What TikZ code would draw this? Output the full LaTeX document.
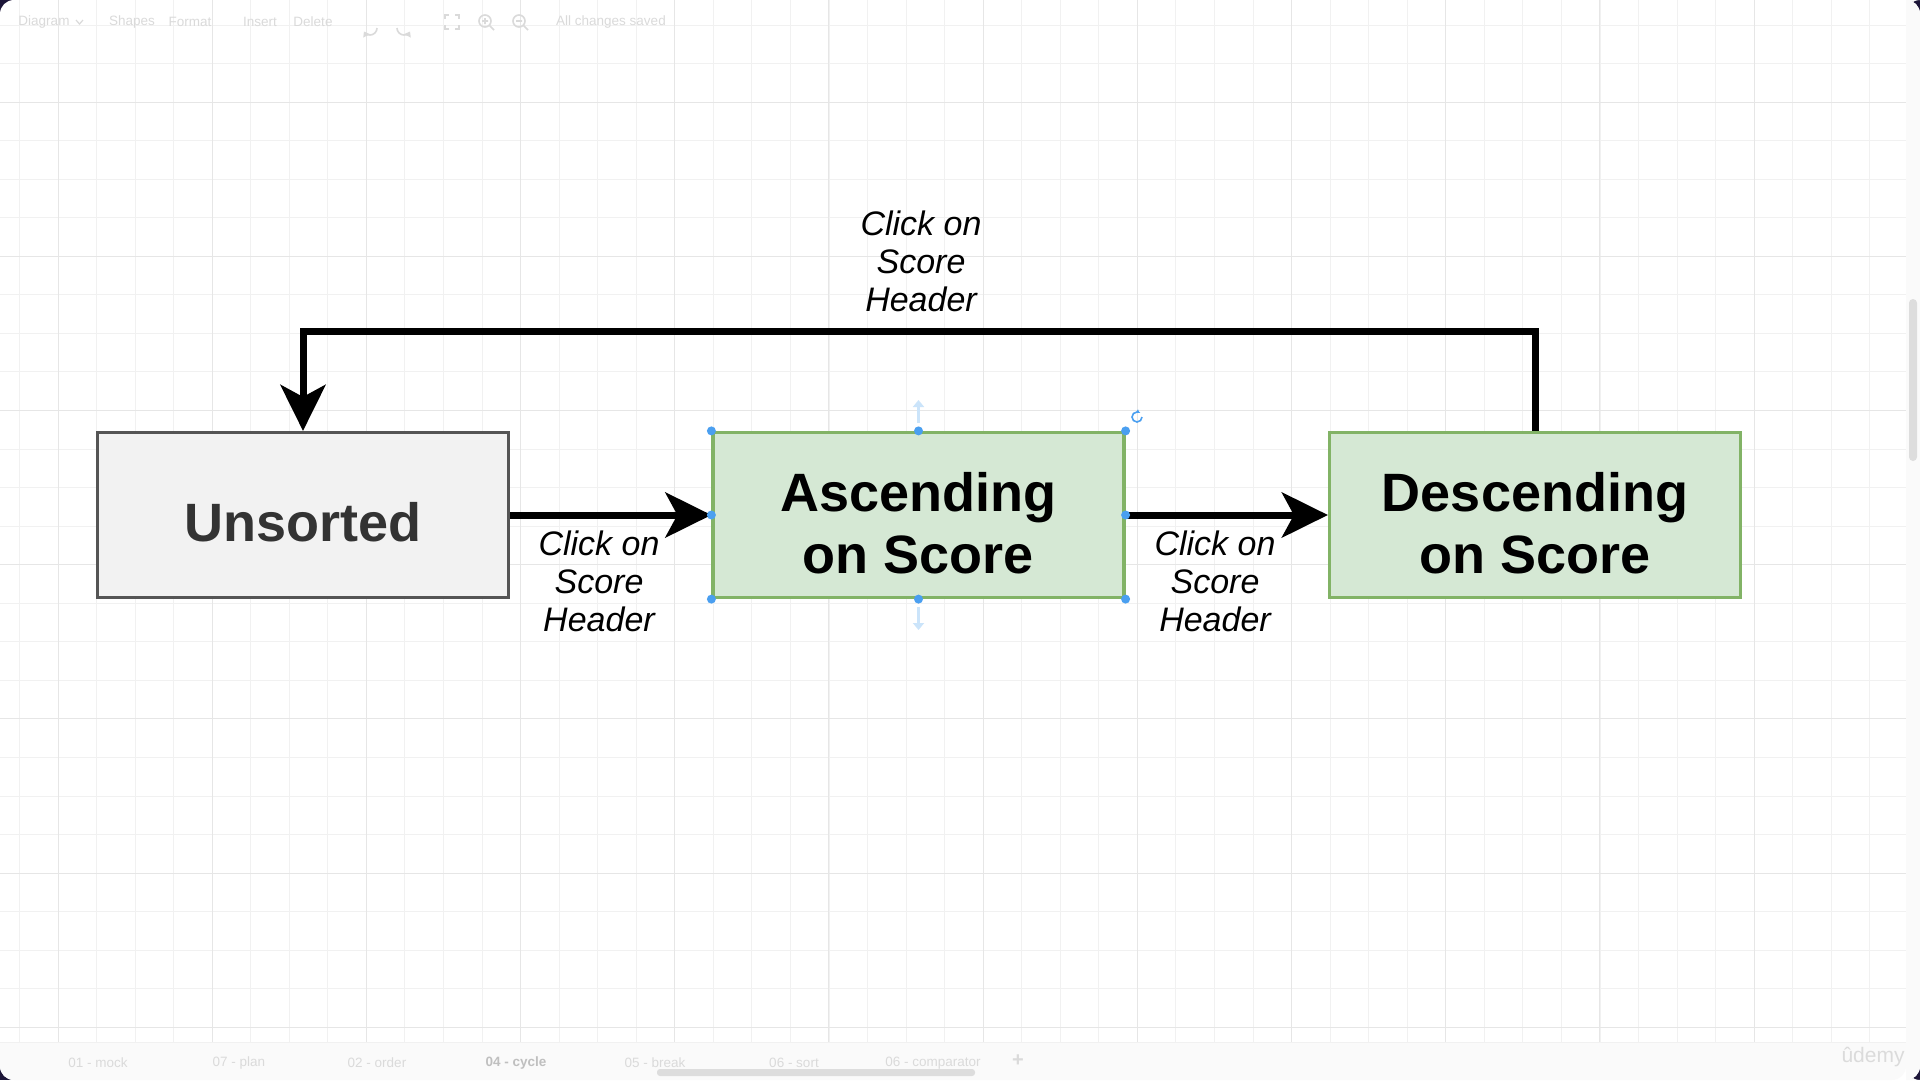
\documentclass[tikz,border=0pt]{standalone}
\usepackage{fontspec}
\setmainfont{Liberation Sans}
\usetikzlibrary{arrows.meta}

\definecolor{greyfill}{HTML}{F2F2F2}
\definecolor{greydraw}{HTML}{555555}
\definecolor{greytext}{HTML}{333333}
\definecolor{greenfill}{HTML}{D5E8D4}
\definecolor{greendraw}{HTML}{82B366}
\definecolor{handleblue}{HTML}{4A9FF0}
\definecolor{hintblue}{HTML}{CBE4FA}
\definecolor{gridminor}{HTML}{F1F1F1}
\definecolor{gridmajor}{HTML}{E6E6E6}
\definecolor{uitext}{HTML}{DADADA}
\definecolor{barfill}{HTML}{FAFAFA}
\definecolor{scrollfill}{HTML}{DDDDDD}
\definecolor{cornerdark}{HTML}{1C1538}

\tikzset{
  statebox/.style={draw, line width=3.2pt, minimum width=411pt, minimum height=165pt, inner sep=0pt},
  statetext/.style={align=center, inner sep=0pt, font=\fontsize{54}{62}\selectfont\bfseries},
  flow/.style={line width=7pt, -{Stealth[length=46pt, width=45pt, inset=12pt]}},
  clicklabel/.style={align=center, font=\fontsize{34}{38}\selectfont\itshape},
  uilabel/.style={text=uitext, font=\fontsize{13.5}{15}\selectfont},
  uiicon/.style={draw=uitext, line width=1.6pt},
  handle/.style={circle, fill=handleblue, draw=none, minimum size=9pt, inner sep=0pt},
  minorline/.style={draw=gridminor, line width=1pt},
  majorline/.style={draw=gridmajor, line width=1pt},
}

\begin{document}
\begin{tikzpicture}[x=1pt, y=-1pt]
  \useasboundingbox (0,0) rectangle (1920,1080);
  % window
  \fill[cornerdark] (0,0) rectangle (1920,1080);
  \fill[white, rounded corners=14pt] (0,0) rectangle (1920,1080);

  % grid
  \foreach \k in {0,...,48}
    \draw[minorline] ({round(18.95+38.55*\k)+0.5},0) -- ({round(18.95+38.55*\k)+0.5},1042);
  \foreach \k in {0,...,26}
    \draw[minorline] (0,{round(24.5+38.55*\k)+0.5}) -- (1906,{round(24.5+38.55*\k)+0.5});
  \foreach \k in {0,...,11}
    \draw[majorline] ({round(57.5+154.2*\k)+0.5},0) -- ({round(57.5+154.2*\k)+0.5},1042);
  \foreach \k in {0,...,6}
    \draw[majorline] (0,{round(101.6+154.2*\k)+0.5}) -- (1906,{round(101.6+154.2*\k)+0.5});

  % side and bottom bars
  \fill[barfill, rounded corners=14pt] (1906,0) rectangle (1920,1080);
  \fill[barfill] (1906,0) rectangle (1912,1080);
  \fill[scrollfill, rounded corners=4pt] (1909,299) rectangle (1917,461);
  \fill[barfill, rounded corners=14pt] (0,1042) rectangle (1906,1080);
  \fill[barfill] (0,1042) rectangle (1906,1060);
  \draw[gridminor, line width=1pt] (0,1042) -- (1906,1042);
  \fill[scrollfill, rounded corners=3pt] (657,1069) rectangle (975,1076);

  % toolbar
  \node[uilabel] (tbdiagram) at (44,22) {Diagram};
  \draw[uiicon, line width=1.2pt] (76,20) -- (79.5,24) -- (83,20);
  \node[uilabel] (tbshapes) at (132,22) {Shapes};
  \node[uilabel] (tbformat) at (190,22) {Format};
  \node[uilabel] (tbinsert) at (260,22) {Insert};
  \node[uilabel] (tbdelete) at (313,22) {Delete};
  \draw[uiicon, -{Triangle[length=5pt, width=7pt]}] (377,28) arc (0:150:7);
  \draw[uiicon, -{Triangle[length=5pt, width=7pt]}] (397,28) arc (180:30:7);
  \draw[uiicon] (445,19) |- (449,15) (455,15) -| (459,19) (459,25) |- (455,29) (449,29) -| (445,25);
  \draw[uiicon] (485,21) circle (6) (489.5,25.5) -- (494,30) (482,21) -- (488,21) (485,18) -- (485,24);
  \draw[uiicon] (519,21) circle (6) (523.5,25.5) -- (528,30) (516,21) -- (522,21);
  \node[uilabel] (tbsaved) at (611,22) {All changes saved};

  % page tabs
  \node[uilabel] (tabmock) at (98,1063) {01 - mock};
  \node[uilabel] (tabplan) at (239,1063) {07 - plan};
  \node[uilabel] (taborder) at (377,1063) {02 - order};
  \node[uilabel, text=black!25, font=\fontsize{13.5}{15}\selectfont\bfseries] (tabcycle) at (516,1063) {04 - cycle};
  \node[uilabel] (tabbreak) at (655,1063) {05 - break};
  \node[uilabel] (tabsort) at (794,1063) {06 - sort};
  \node[uilabel] (tabcomp) at (933,1063) {06 - comparator};
  \node[uilabel, font=\fontsize{20}{20}\selectfont\bfseries] (tabplus) at (1018,1061) {+};
  \node[text=black!14, font=\fontsize{21}{21}\selectfont] (logo) at (1873,1057) {ûdemy};

  % states
  \node[statebox, fill=greyfill, draw=greydraw] (unsorted) at (303,515) {};
  \node[statebox, fill=greenfill, draw=greendraw] (ascending) at (918.5,515) {};
  \node[statebox, fill=greenfill, draw=greendraw] (descending) at (1535,515) {};
  \node[statetext, text=greytext] (unsortedtext) at (303,522) {Unsorted};
  \node[statetext] (ascendingtext) at (918.5,523) {Ascending\\on Score};
  \node[statetext] (descendingtext) at (1535,523) {Descending\\on Score};

  % transitions
  \coordinate (looptop) at (921,331);
  \draw[flow] (unsorted) -- (ascending);
  \draw[flow] (ascending) -- (descending);
  \draw[flow] (descending.north) |- (looptop) -| (unsorted.north);

  \node[clicklabel] (toplabel) at (921,261.5) {Click on\\Score\\Header};
  \node[clicklabel] (leftlabel) at (599,581.5) {Click on\\Score\\Header};
  \node[clicklabel] (rightlabel) at (1215,581.5) {Click on\\Score\\Header};

  % selection handles
  \node[handle] (hnw) at (ascending.north west) {};
  \node[handle] (hn) at (ascending.north) {};
  \node[handle] (hne) at (ascending.north east) {};
  \node[handle] (hw) at (ascending.west) {};
  \node[handle] (he) at (ascending.east) {};
  \node[handle] (hsw) at (ascending.south west) {};
  \node[handle] (hs) at (ascending.south) {};
  \node[handle] (hse) at (ascending.south east) {};
  \draw[hintblue, line width=3pt, -{Triangle[length=7pt, width=11pt]}] (918.5,423) -- (918.5,400);
  \draw[hintblue, line width=3pt, -{Triangle[length=7pt, width=11pt]}] (918.5,607) -- (918.5,630);
  \draw[handleblue, line width=1.6pt, -{Triangle[length=3pt, width=4pt]}] (1142,417) arc (0:300:5);
\end{tikzpicture}
\end{document}
